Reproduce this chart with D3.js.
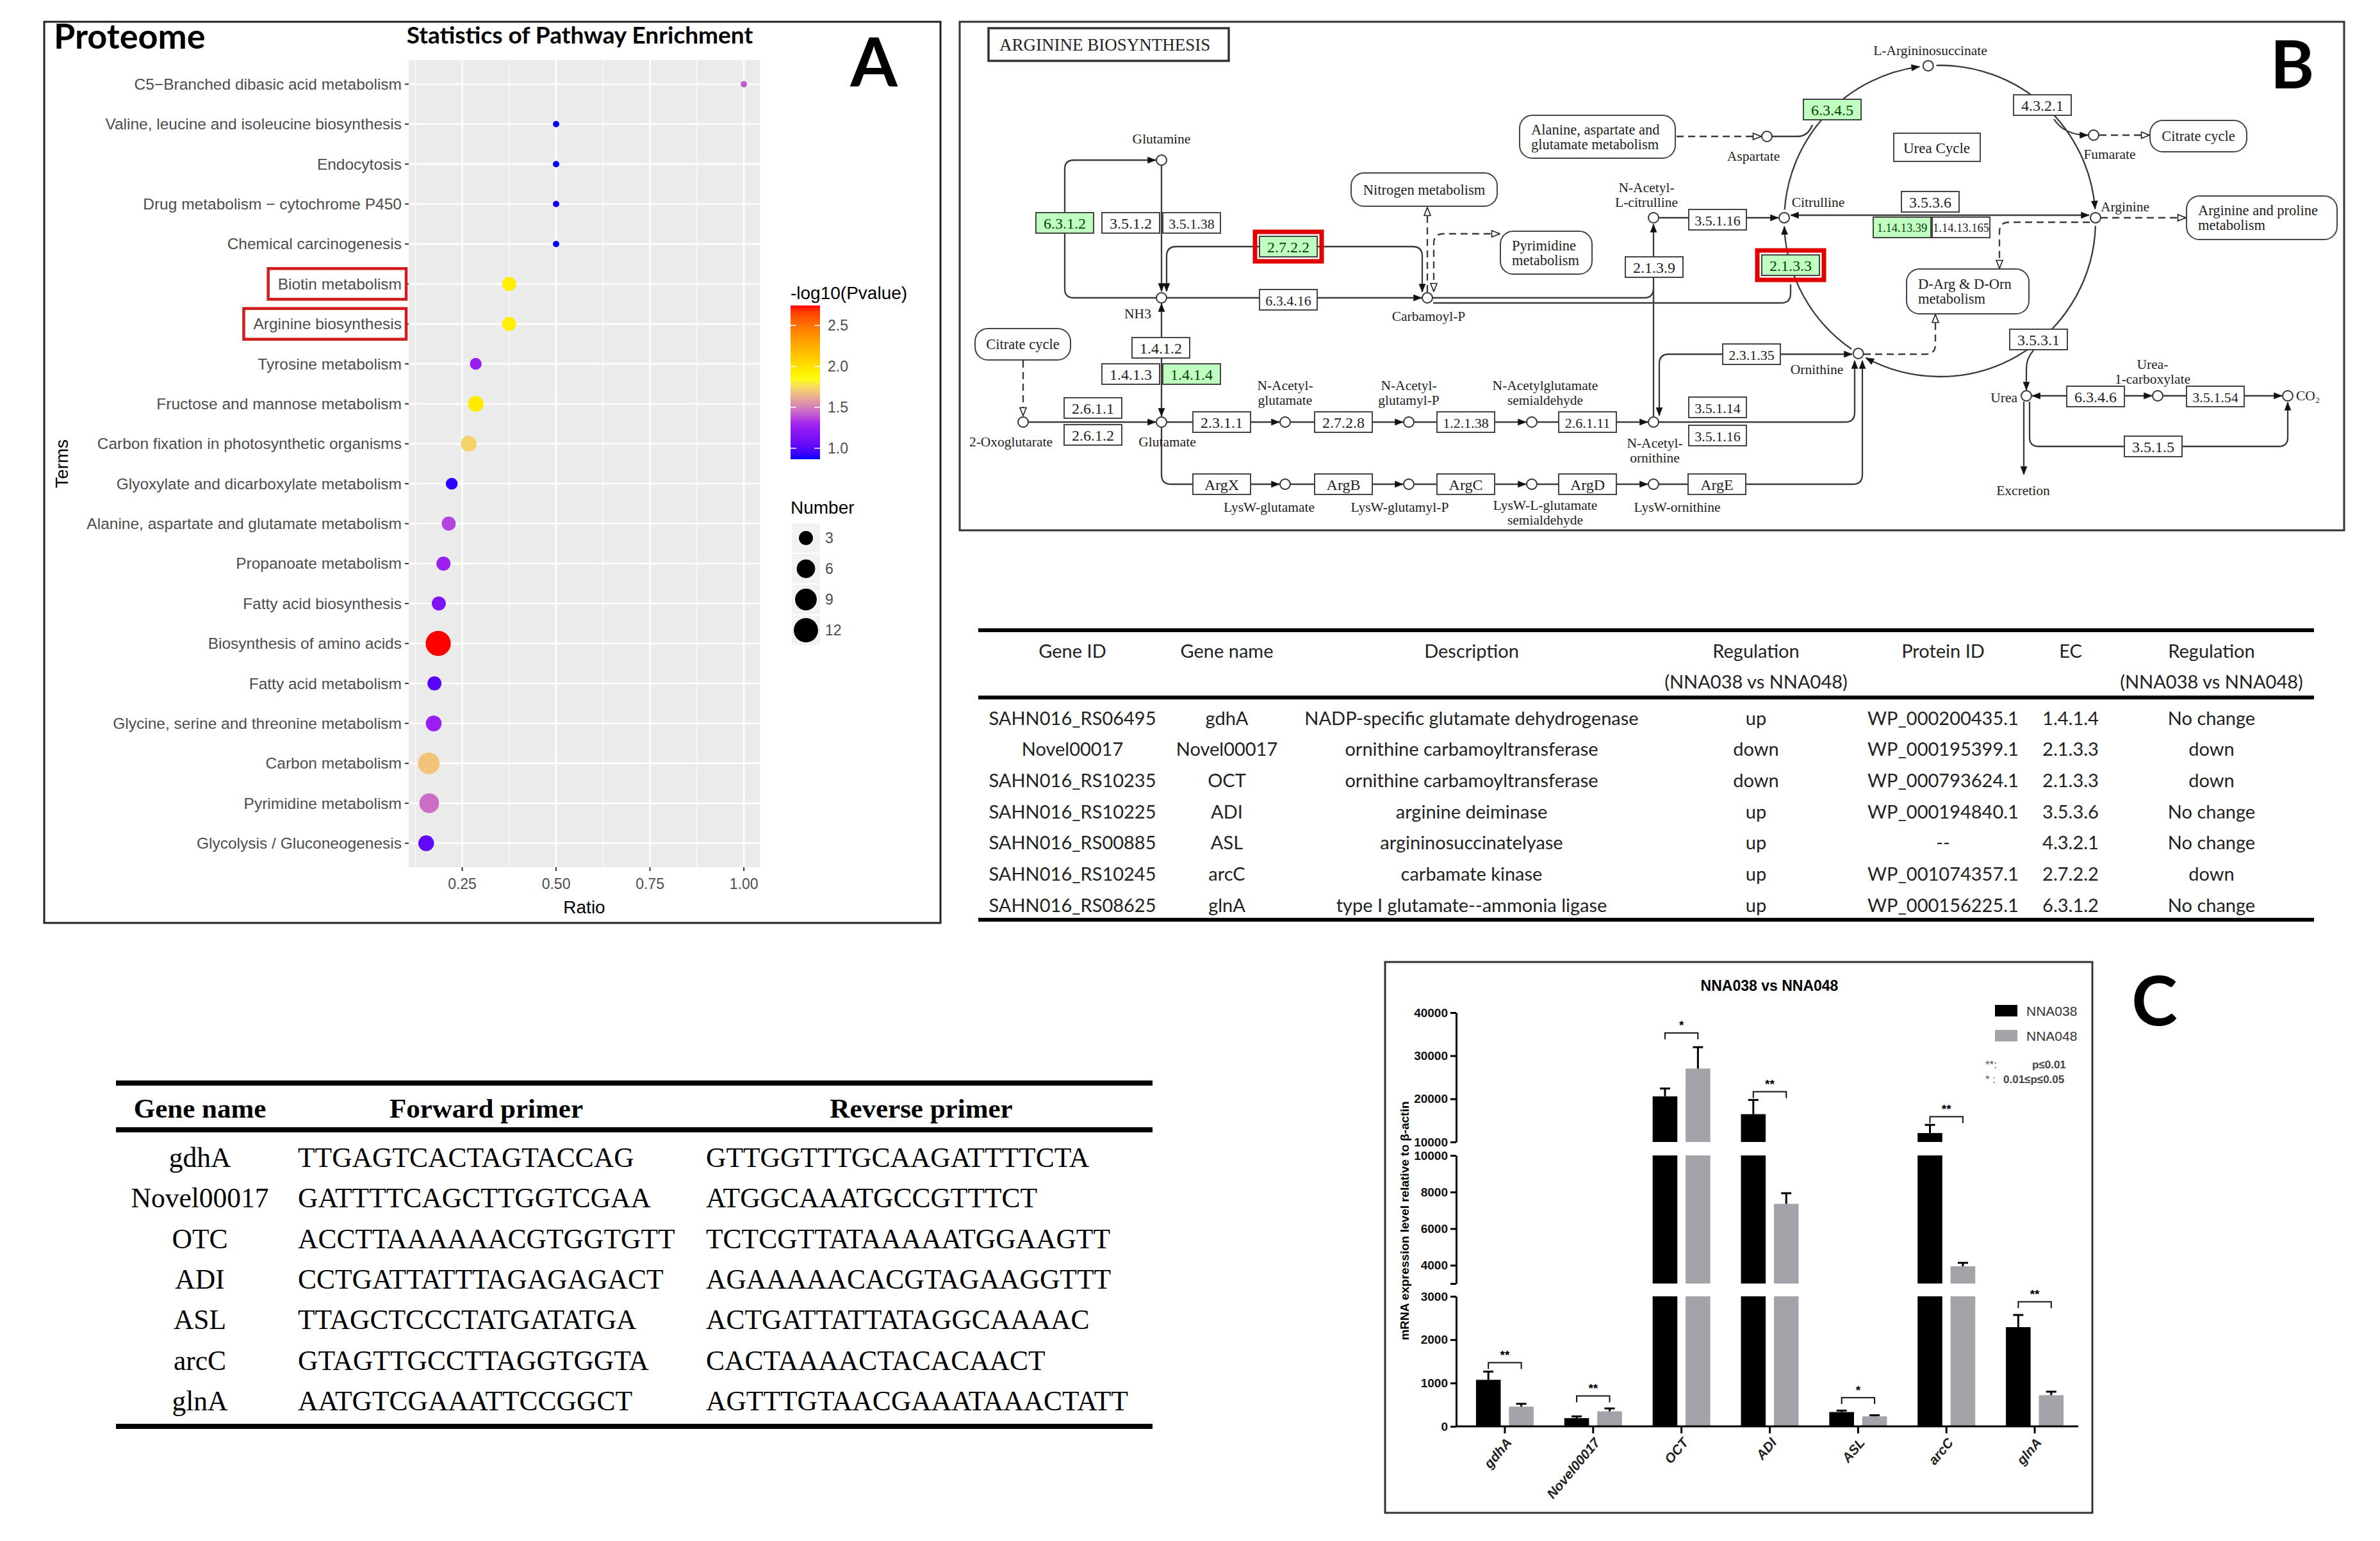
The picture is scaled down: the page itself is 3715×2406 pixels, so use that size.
<!DOCTYPE html>
<html><head><meta charset="utf-8">
<script src="https://cdn.jsdelivr.net/npm/d3@7"></script>
<style>body{margin:0;background:#fff} svg{display:block;background:#fff}</style>
</head><body>
<svg id="fig" width="3715" height="2406"></svg>
<script>
// ================= DATA =================
// Panel A – KEGG pathway enrichment
const terms = ["C5\u2212Branched dibasic acid metabolism","Valine, leucine and isoleucine biosynthesis","Endocytosis","Drug metabolism \u2212 cytochrome P450","Chemical carcinogenesis","Biotin metabolism","Arginine biosynthesis","Tyrosine metabolism","Fructose and mannose metabolism","Carbon fixation in photosynthetic organisms","Glyoxylate and dicarboxylate metabolism","Alanine, aspartate and glutamate metabolism","Propanoate metabolism","Fatty acid biosynthesis","Biosynthesis of amino acids","Fatty acid metabolism","Glycine, serine and threonine metabolism","Carbon metabolism","Pyrimidine metabolism","Glycolysis / Gluconeogenesis"];
const ratios = [1.0,0.5,0.5,0.5,0.5,0.375,0.375,0.286,0.286,0.267,0.222,0.214,0.2,0.1875,0.186,0.176,0.174,0.161,0.162,0.154];
const counts = [1,1,1,1,1,3,3,2,4,4,2,3,3,3,13,3,4,9,7,4];
const logP   = [1.41,0.87,0.87,0.87,0.87,1.93,1.93,1.27,1.95,1.73,0.9,1.36,1.28,1.15,2.744,1.0,1.27,1.69,1.46,1.03];
const highlightTerms = ["Biotin metabolism","Arginine biosynthesis"];
const ratioTicks = [0.25,0.5,0.75,1.0];
const ratioMinor = [0.125,0.375,0.625,0.875];
const pTicks = [1.0,1.5,2.0,2.5];
const sizeLegend = [3,6,9,12];
const colorStops = [0.866,1.3,1.85,2.744];
const colorRange = ["#0000ff","#a020f0","#ffff00","#ff0000"];

// Table 1
const t1Header = [["Gene ID"],["Gene name"],["Description"],["Regulation","(NNA038 vs NNA048)"],["Protein ID"],["EC"],["Regulation","(NNA038 vs NNA048)"]];
const t1GeneId = ["SAHN016_RS06495","Novel00017","SAHN016_RS10235","SAHN016_RS10225","SAHN016_RS00885","SAHN016_RS10245","SAHN016_RS08625"];
const t1GeneName = ["gdhA","Novel00017","OCT","ADI","ASL","arcC","glnA"];
const t1Desc = ["NADP-specific glutamate dehydrogenase","ornithine carbamoyltransferase","ornithine carbamoyltransferase","arginine deiminase","argininosuccinatelyase","carbamate kinase","type I glutamate--ammonia ligase"];
const t1RegRna = ["up","down","down","up","up","up","up"];
const t1Protein = ["WP_000200435.1","WP_000195399.1","WP_000793624.1","WP_000194840.1","--","WP_001074357.1","WP_000156225.1"];
const t1EC = ["1.4.1.4","2.1.3.3","2.1.3.3","3.5.3.6","4.3.2.1","2.7.2.2","6.3.1.2"];
const t1RegProt = ["No change","down","down","No change","No change","down","No change"];

// Table 2 – primers
const t2Genes = ["gdhA","Novel00017","OTC","ADI","ASL","arcC","glnA"];
const t2Fwd = ["TTGAGTCACTAGTACCAG","GATTTTCAGCTTGGTCGAA","ACCTTAAAAAACGTGGTGTT","CCTGATTATTTAGAGAGACT","TTAGCTCCCTATGATATGA","GTAGTTGCCTTAGGTGGTA","AATGTCGAAATTCCGGCT"];
const t2Rev = ["GTTGGTTTGCAAGATTTTCTA","ATGGCAAATGCCGTTTCT","TCTCGTTATAAAAATGGAAGTT","AGAAAAACACGTAGAAGGTTT","ACTGATTATTATAGGCAAAAC","CACTAAAACTACACAACT","AGTTTGTAACGAAATAAACTATT"];

// Panel C – qPCR
const genes = ["gdhA","Novel00017","OCT","ADI","ASL","arcC","glnA"];
const series = ["NNA038","NNA048"];
const nna038 = [1074,190,20580,16450,330,12070,2289];
const nna038Err = [190,40,1820,3300,34,1900,281];
const nna048 = [455,347,27025,7355,231,3940,719];
const nna048Err = [65,66,4955,580,25,190,81];
const sigLabel = ["**","**","*","**","*","**","**"];
const sigLevel = [1471,702,35290,21650,661,15870,2876];
const segDomains = [[0,3000],[3000,10000],[10000,40000]];
const segTicks = [[0,1000,2000,3000],[3000,4000,6000,8000,10000],[10000,20000,30000,40000]];

// Panel B – pathway map (KEGG map00220) layout
const enzymes = [
 ["6.3.1.2",1662,348,1,0],["3.5.1.2",1765,348,0,0],["3.5.1.38",1860,348,0,0],
 ["2.7.2.2",2011,385,1,1],["6.3.4.16",2011,468,0,0],
 ["1.4.1.2",1812,543,0,0],["1.4.1.3",1765,584,0,0],["1.4.1.4",1860,584,1,0],
 ["2.6.1.1",1706,637,0,0],["2.6.1.2",1706,679,0,0],
 ["2.3.1.1",1907,659,0,0],["2.7.2.8",2097,659,0,0],["1.2.1.38",2288,659,0,0],["2.6.1.11",2478,659,0,0],
 ["ArgX",1907,756,0,0],["ArgB",2097,756,0,0],["ArgC",2288,756,0,0],["ArgD",2478,756,0,0],["ArgE",2680,756,0,0],
 ["2.1.3.9",2582,417,0,0],["3.5.1.16",2681,343,0,0],["2.1.3.3",2795,414,1,1],
 ["6.3.4.5",2860,171,1,0],["4.3.2.1",3188,164,0,0],
 ["3.5.3.6",3013,315,0,0],["1.14.13.39",2969,355,1,0],["1.14.13.165",3061,355,0,0],
 ["2.3.1.35",2734,553,0,0],["3.5.1.14",2681,636,0,0],["3.5.1.16",2681,680,0,0],
 ["3.5.3.1",3182,530,0,0],["6.3.4.6",3271,619,0,0],["3.5.1.54",3458,619,0,0],["3.5.1.5",3361,697,0,0]
];
const cycle = {cx:3028, cy:345, r:243};
const cycleNodes = [["Citrulline",181.2],["L-Argininosuccinate",265.7],["Arginine",358.8],["Ornithine",121.6]];
const nodes = [[1813,250],[1813,465],[2228,465],[1597,659],[1813,659],[2006,659],[2199,659],[2391,659],[2581,659],
 [2006,756],[2199,756],[2391,756],[2581,756],[2581,340],[2758,213],[3268,211],[3163,618],[3368,618],[3571,618]];
const cLabels = [
 [["Glutamine"],1813,217,"middle"],[["NH3"],1776,490,"middle"],[["Carbamoyl-P"],2230,494,"middle"],
 [["2-Oxoglutarate"],1578,690,"middle"],[["Glutamate"],1822,690,"middle"],
 [["N-Acetyl-","glutamate"],2006,602,"middle"],[["N-Acetyl-","glutamyl-P"],2199,602,"middle"],
 [["N-Acetylglutamate","semialdehyde"],2412,602,"middle"],[["N-Acetyl-","ornithine"],2583,692,"middle"],
 [["LysW-glutamate"],1981,792,"middle"],[["LysW-glutamyl-P"],2185,792,"middle"],
 [["LysW-L-glutamate","semialdehyde"],2412,789,"middle"],[["LysW-ornithine"],2618,792,"middle"],
 [["N-Acetyl-","L-citrulline"],2570,293,"middle"],[["Citrulline"],2838,316,"middle"],
 [["Aspartate"],2737,244,"middle"],[["L-Argininosuccinate"],3013,79,"middle"],
 [["Fumarate"],3293,241,"middle"],[["Arginine"],3279,323,"start"],[["Ornithine"],2836,577,"middle"],
 [["Urea"],3149,621,"end"],[["Urea-","1-carboxylate"],3360,569,"middle"],[["CO\u2082"],3584,618,"start"],
 [["Excretion"],3158,766,"middle"]
];
const maps = [
 [["Alanine, aspartate and","glutamate metabolism"],2372,180,243,67,"start"],
 [["Nitrogen metabolism"],2109,270,228,52,"middle"],
 [["Pyrimidine","metabolism"],2342,361,143,67,"start"],
 [["Citrate cycle"],1522,513,149,49,"middle"],
 [["Citrate cycle"],3356,188,151,49,"middle"],
 [["Arginine and proline","metabolism"],3413,306,235,68,"start"],
 [["D-Arg & D-Orn","metabolism"],2976,420,191,70,"start"]
];
const edges = [
 ["M1805,465 H1676 Q1662,465 1662,451 V264 Q1662,250 1676,250 H1804",0,null,"arr"],
 ["M1813,259 V455",0,null,"arr"],
 ["M1821,455 V400 Q1821,385 1836,385 H2205 Q2220,385 2220,400 V456",0,"arr","arr"],
 ["M1822,465 H2219",0,null,"arr"],
 ["M2228,456 V324",1,null,"hol"],
 ["M2238,455 V380 Q2238,365 2253,365 H2341",1,"hol","hol"],
 ["M2237,465 H2566 Q2581,465 2581,450",0,null,null],
 ["M2237,473 H2780 Q2795,473 2795,458 V444",0,null,null],
 ["M2581,650 V350",0,null,"arr"],
 ["M2590,340 H2776",0,null,"arr"],
 ["M2795,336 H3261",0,"arr","arr"],
 ["M2766,213 H2806 Q2822,213 2829,195",0,null,null],
 ["M2617,213 H2749",1,null,"hol"],
 ["M3206,186 Q3222,211 3259,211",0,null,"arr"],
 ["M3277,211 H3355",1,null,"hol"],
 ["M3279,340 H3412",1,null,"hol"],
 ["M3262,347 H3136 Q3121,347 3121,362 V419",1,null,"hol"],
 ["M2909,553 H3006 Q3021,553 3021,538 V491",1,null,"hol"],
 ["M2590,649 V568 Q2590,553 2605,553 H2891",0,"arr","arr"],
 ["M2589,659 H2880 Q2895,659 2895,644 V563",0,null,"arr"],
 ["M2589,756 H2892 Q2907,756 2907,741 V563",0,null,"arr"],
 ["M3174,547 Q3163,560 3163,575 V609",0,null,"arr"],
 ["M3172,618 H3359",0,"arr","arr"],
 ["M3377,618 H3562",0,null,"arr"],
 ["M3168,627 V683 Q3168,697 3182,697 H3557 Q3571,697 3571,683 V628",0,null,"arr"],
 ["M3159,627 V741",0,null,"arr"],
 ["M1597,563 V649",1,null,"hol"],
 ["M1606,659 H1804",0,null,"arr"],
 ["M1813,650 V474",0,"arr","arr"],
 ["M1822,659 H1997",0,null,"arr"],["M2015,659 H2190",0,null,"arr"],["M2208,659 H2382",0,null,"arr"],["M2400,659 H2572",0,null,"arr"],
 ["M1813,668 V741 Q1813,756 1828,756 H1997",0,null,"arr"],["M2015,756 H2190",0,null,"arr"],["M2208,756 H2382",0,null,"arr"],["M2400,756 H2572",0,null,"arr"]
];

// ================= DRAW =================
const svg = d3.select("#fig");
const SANS = "'Liberation Sans', Arial, sans-serif";
const SERIF = "'Liberation Serif', 'Times New Roman', serif";
const CAL = "Lato, 'Open Sans', sans-serif";
function txt(g,x,y,s,o={}){
  return g.append("text").attr("x",x).attr("y",y).text(s)
   .attr("font-family",o.ff||SANS).attr("font-size",o.fs||20)
   .attr("font-weight",o.fw||"normal").attr("font-style",o.fst||"normal")
   .attr("fill",o.fill||"#000").attr("text-anchor",o.ta||"start")
   .attr("dominant-baseline",o.db||"central");
}
const defs = svg.append("defs");

// ---------- Panel A ----------
const gA = svg.append("g");
gA.append("rect").attr("x",69).attr("y",34).attr("width",1399).attr("height",1407).attr("fill","none").attr("stroke","#222").attr("stroke-width",3);
const PA = {x0:638,x1:1186,y0:94,y1:1354};
const xA = d3.scaleLinear().domain([0.1075,1.0425]).range([PA.x0,PA.x1]);
const yA = d3.scalePoint().domain(terms).range([PA.y0,PA.y1]).padding(0.6);
const colA = d3.scaleLinear().domain(colorStops).range(colorRange).interpolate(d3.interpolateLab).clamp(true);
const rBase = d3.scaleSqrt().domain([0,12]).range([5,19.6]);
const rA = n => rBase(n-1);
gA.append("rect").attr("x",PA.x0).attr("y",PA.y0).attr("width",PA.x1-PA.x0).attr("height",PA.y1-PA.y0).attr("fill","#ebebeb");
gA.selectAll(".mn").data(ratioMinor).enter().append("line").attr("x1",d=>xA(d)).attr("x2",d=>xA(d)).attr("y1",PA.y0).attr("y2",PA.y1).attr("stroke","#fafafa").attr("stroke-width",1.3);
gA.selectAll(".mj").data(ratioTicks).enter().append("line").attr("x1",d=>xA(d)).attr("x2",d=>xA(d)).attr("y1",PA.y0).attr("y2",PA.y1).attr("stroke","#fff").attr("stroke-width",2.6);
gA.selectAll(".hj").data(terms).enter().append("line").attr("x1",PA.x0).attr("x2",PA.x1).attr("y1",d=>yA(d)).attr("y2",d=>yA(d)).attr("stroke","#fff").attr("stroke-width",2.6);
terms.forEach((t,i)=>{
  gA.append("line").attr("x1",PA.x0-6).attr("x2",PA.x0).attr("y1",yA(t)).attr("y2",yA(t)).attr("stroke","#333").attr("stroke-width",2);
  const tx = txt(gA,PA.x0-11,yA(t),t,{fs:24.5,fill:"#4d4d4d",ta:"end"});
  if(highlightTerms.includes(t)){
    const w = tx.node().getComputedTextLength();
    gA.append("rect").attr("x",PA.x0-11-w-15).attr("y",yA(t)-24).attr("width",w+22).attr("height",48)
      .attr("fill","none").attr("stroke","#d01c1c").attr("stroke-width",4.5);
  }
});
ratioTicks.forEach(v=>{
  gA.append("line").attr("x1",xA(v)).attr("x2",xA(v)).attr("y1",PA.y1).attr("y2",PA.y1+6).attr("stroke","#333").attr("stroke-width",2);
  txt(gA,xA(v),1380,d3.format(".2f")(v),{fs:23,fill:"#4d4d4d",ta:"middle"});
});
txt(gA,(PA.x0+PA.x1)/2,1416,"Ratio",{fs:28,ta:"middle"});
txt(gA,0,0,"Terms",{fs:28,ta:"middle"}).attr("transform","translate(96,724) rotate(-90)");
const ptsOrder = d3.range(terms.length).sort((a,b)=>counts[b]-counts[a]);
gA.selectAll(".pt").data(ptsOrder).enter().append("circle")
  .attr("cx",i=>xA(ratios[i])).attr("cy",i=>yA(terms[i])).attr("r",i=>rA(counts[i])).attr("fill",i=>colA(logP[i]));
txt(gA,84,76,"Proteome",{ff:CAL,fs:54,fw:"bold",db:"alphabetic"});
txt(gA,905,68,"Statistics of Pathway Enrichment",{ff:CAL,fs:37,fw:"bold",ta:"middle",db:"alphabetic"});
txt(gA,1364,135,"A",{ff:CAL,fs:106,fw:"bold",ta:"middle",db:"alphabetic"});
txt(gA,1234,457,"-log10(Pvalue)",{fs:28});
const cb = {x:1234,w:46,y0:717,y1:477};
const yCB = d3.scaleLinear().domain([colorStops[0],colorStops[colorStops.length-1]]).range([cb.y0,cb.y1]);
const grad = defs.append("linearGradient").attr("id","cbg").attr("x1",0).attr("x2",0).attr("y1",1).attr("y2",0);
d3.range(0,1.0001,0.04).forEach(t=>{
  const v = yCB.domain()[0]+t*(yCB.domain()[1]-yCB.domain()[0]);
  grad.append("stop").attr("offset",t).attr("stop-color",colA(v));
});
gA.append("rect").attr("x",cb.x).attr("y",cb.y1).attr("width",cb.w).attr("height",cb.y0-cb.y1).attr("fill","url(#cbg)");
pTicks.forEach(v=>{
  gA.append("line").attr("x1",cb.x).attr("x2",cb.x+9).attr("y1",yCB(v)).attr("y2",yCB(v)).attr("stroke","#fff").attr("stroke-width",1.5);
  gA.append("line").attr("x1",cb.x+cb.w-9).attr("x2",cb.x+cb.w).attr("y1",yCB(v)).attr("y2",yCB(v)).attr("stroke","#fff").attr("stroke-width",1.5);
  txt(gA,1292,yCB(v),d3.format(".1f")(v),{fs:23,fill:"#4d4d4d"});
});
txt(gA,1234,792,"Number",{fs:28});
const keyY = d3.scalePoint().domain(sizeLegend).range([840,984]);
sizeLegend.forEach(n=>{
  gA.append("rect").attr("x",1236).attr("y",keyY(n)-23).attr("width",44).attr("height",46).attr("fill","#f2f2f2");
  gA.append("circle").attr("cx",1258).attr("cy",keyY(n)).attr("r",rA(n)).attr("fill","#000");
  txt(gA,1288,keyY(n),String(n),{fs:23,fill:"#4d4d4d"});
});

// ---------- Panel B ----------
const gB = svg.append("g");
gB.append("rect").attr("x",1498).attr("y",34).attr("width",2161).attr("height",794).attr("fill","#fff").attr("stroke","#333").attr("stroke-width",3);
function mk(id,hollow){
  const m = defs.append("marker").attr("id",id).attr("viewBox","0 0 12 10").attr("refX",11).attr("refY",5)
    .attr("markerWidth",15).attr("markerHeight",13).attr("markerUnits","userSpaceOnUse").attr("orient","auto-start-reverse");
  m.append("path").attr("d","M1,1 L11,5 L1,9 z").attr("fill",hollow?"#fff":"#111").attr("stroke","#222").attr("stroke-width",hollow?1.3:0.5);
}
mk("arr",false); mk("hol",true);
const LC = "#3a3a3a";
const cyc = {};
cycleNodes.forEach(([n,a])=>{ cyc[n] = {a, x:cycle.cx+cycle.r*Math.cos(a*Math.PI/180), y:cycle.cy+cycle.r*Math.sin(a*Math.PI/180)}; });
const arcs = [["Citrulline","L-Argininosuccinate"],["L-Argininosuccinate","Arginine"],["Arginine","Ornithine"],["Ornithine","Citrulline"]];
const P = a => [cycle.cx+cycle.r*Math.cos(a*Math.PI/180), cycle.cy+cycle.r*Math.sin(a*Math.PI/180)];
arcs.forEach(([s,e])=>{
  let a0 = cyc[s].a+3, a1 = cyc[e].a-3.2;
  if(a1<a0) a1+=360;
  const p0=P(a0), p1=P(a1);
  gB.append("path").attr("d",`M${p0[0]},${p0[1]} A${cycle.r},${cycle.r} 0 ${a1-a0>180?1:0} 1 ${p1[0]},${p1[1]}`)
    .attr("fill","none").attr("stroke",LC).attr("stroke-width",2.3).attr("marker-end","url(#arr)");
});
edges.forEach(([d,dash,ms,me])=>{
  const p = gB.append("path").attr("d",d).attr("fill","none").attr("stroke",LC).attr("stroke-width",2.3);
  if(dash) p.attr("stroke-dasharray","11,7");
  if(ms) p.attr("marker-start",`url(#${ms})`);
  if(me) p.attr("marker-end",`url(#${me})`);
});
maps.forEach(([lines,x,y,w,h,al])=>{
  gB.append("rect").attr("x",x).attr("y",y).attr("width",w).attr("height",h).attr("rx",20).attr("ry",20).attr("fill","#fff").attr("stroke","#444").attr("stroke-width",2);
  lines.forEach((l,k)=>{
    const ty = y+h/2+(k-(lines.length-1)/2)*23;
    txt(gB,al==="start"?x+18:x+w/2,ty,l,{ff:SERIF,fs:22.5,ta:al,fill:"#222"});
  });
});
gB.append("rect").attr("x",2956).attr("y",208).attr("width",135).attr("height",44).attr("fill","#fff").attr("stroke","#444").attr("stroke-width",2);
txt(gB,3023,231,"Urea Cycle",{ff:SERIF,fs:23,ta:"middle",fill:"#222"});
gB.append("rect").attr("x",1543).attr("y",44).attr("width",375).attr("height",51).attr("fill","#fff").attr("stroke","#333").attr("stroke-width",3.5);
txt(gB,1560,70,"ARGININE  BIOSYNTHESIS",{ff:SERIF,fs:27,fill:"#222"});
enzymes.forEach(([lab,x,y,green,red])=>{
  const w=90,h=32;
  if(red) gB.append("rect").attr("x",x-w/2-7).attr("y",y-h/2-7).attr("width",w+14).attr("height",h+14).attr("fill","none").attr("stroke","#e00000").attr("stroke-width",7);
  gB.append("rect").attr("x",x-w/2).attr("y",y-h/2).attr("width",w).attr("height",h).attr("fill",green?"#bfffbf":"#fff").attr("stroke","#444").attr("stroke-width",2);
  txt(gB,x,y+1,lab,{ff:SERIF,fs:lab.length>=10?18.5:(lab.length>=8?22:24),ta:"middle",fill:green?"#0a3d0a":"#222"});
});
nodes.concat(Object.values(cyc).map(c=>[c.x,c.y])).forEach(([x,y])=>{
  gB.append("circle").attr("cx",x).attr("cy",y).attr("r",8).attr("fill","#fff").attr("stroke","#333").attr("stroke-width",2);
});
cLabels.forEach(([lines,x,y,an])=>{
  lines.forEach((l,k)=>txt(gB,x,y+k*23,l,{ff:SERIF,fs:21.5,ta:an,fill:"#222"}));
});
txt(gB,3578,138,"B",{ff:CAL,fs:104,fw:"bold",ta:"middle",db:"alphabetic"});

// ---------- Table 1 ----------
const gT = svg.append("g");
const t1Cols = [1674,1915,2297,2741,3033,3232,3452];
const t1RowY = d3.scalePoint().domain(d3.range(7)).range([1120,1412]);
[[984,6],[1089,6],[1436,6]].forEach(([y,w])=>gT.append("line").attr("x1",1527).attr("x2",3612).attr("y1",y).attr("y2",y).attr("stroke","#000").attr("stroke-width",w));
t1Header.forEach((h,c)=>h.forEach((l,k)=>txt(gT,t1Cols[c],1015+k*48,l,{ff:CAL,fs:29,ta:"middle",fill:"#222"})));
const t1Data = [t1GeneId,t1GeneName,t1Desc,t1RegRna,t1Protein,t1EC,t1RegProt];
t1Data.forEach((col,c)=>col.forEach((v,r)=>txt(gT,t1Cols[c],t1RowY(r),v,{ff:CAL,fs:29,ta:"middle",fill:"#222"})));

// ---------- Table 2 ----------
const gP = svg.append("g");
[[1691,8],[1764,8],[2227,8]].forEach(([y,w])=>gP.append("line").attr("x1",181).attr("x2",1799).attr("y1",y).attr("y2",y).attr("stroke","#000").attr("stroke-width",w));
txt(gP,312,1730,"Gene name",{ff:SERIF,fs:43,fw:"bold",ta:"middle"});
txt(gP,759,1730,"Forward primer",{ff:SERIF,fs:43,fw:"bold",ta:"middle"});
txt(gP,1438,1730,"Reverse primer",{ff:SERIF,fs:43,fw:"bold",ta:"middle"});
const t2RowY = d3.scalePoint().domain(d3.range(7)).range([1807,2187]);
t2Genes.forEach((g,r)=>{
  txt(gP,312,t2RowY(r),g,{ff:SERIF,fs:43.5,ta:"middle"});
  txt(gP,465,t2RowY(r),t2Fwd[r],{ff:SERIF,fs:43.5});
  txt(gP,1102,t2RowY(r),t2Rev[r],{ff:SERIF,fs:43.5});
});

// ---------- Panel C ----------
const gC = svg.append("g");
gC.append("rect").attr("x",2162).attr("y",1502).attr("width",1104).attr("height",860).attr("fill","#fff").attr("stroke","#333").attr("stroke-width",3);
txt(gC,3363,1601,"C",{ff:CAL,fs:108,fw:"bold",ta:"middle",db:"alphabetic"});
const segRanges = [[2227,2024],[2004,1804],[1783,1581]];
const segS = segDomains.map((d,i)=>d3.scaleLinear().domain(d).range(segRanges[i]));
const xC = d3.scaleBand().domain(genes).range([2280,3245]);
const xSub = d3.scaleBand().domain(series).range([-45,45]).paddingInner(0.25);
const vals = [nna038,nna048], errs=[nna038Err,nna048Err], fills=["#000","#a3a3a9"];
const ctr = g => xC(g)+xC.bandwidth()/2;
const segOf = v => segS.findIndex(s=>v>s.domain()[0] && v<=s.domain()[1]);
genes.forEach((g,i)=>{
  series.forEach((s,j)=>{
    const v = vals[j][i], e = errs[j][i];
    const bx = ctr(g)+xSub(s), bw = xSub.bandwidth();
    segS.forEach(sc=>{
      const [lo,hi] = sc.domain();
      if(v>lo){
        const top = Math.min(v,hi);
        gC.append("rect").attr("x",bx).attr("y",sc(top)).attr("width",bw).attr("height",sc(lo)-sc(top)).attr("fill",fills[j]);
      }
    });
    const sc = segS[segOf(v)];
    const te = Math.min(v+e, sc.domain()[1]);
    const cx = bx+bw/2;
    gC.append("line").attr("x1",cx).attr("x2",cx).attr("y1",sc(v)).attr("y2",sc(te)).attr("stroke","#000").attr("stroke-width",3);
    gC.append("line").attr("x1",cx-8).attr("x2",cx+8).attr("y1",sc(te)).attr("y2",sc(te)).attr("stroke","#000").attr("stroke-width",3);
  });
  const sc = segS[segOf(sigLevel[i])];
  const yb = sc(sigLevel[i]);
  const xa = ctr(g)+xSub("NNA038")+xSub.bandwidth()/2, xb = ctr(g)+xSub("NNA048")+xSub.bandwidth()/2;
  gC.append("path").attr("d",`M${xa},${yb+10} V${yb} H${xb} V${yb+10}`).attr("fill","none").attr("stroke","#111").attr("stroke-width",2);
  txt(gC,(xa+xb)/2,yb-12,sigLabel[i],{fs:19,fw:"bold",ta:"middle"});
});
segS.forEach((sc,k)=>{
  const ax = gC.append("g").attr("transform","translate(2273,0)")
    .call(d3.axisLeft(sc).tickValues(segTicks[k]).tickSize(9).tickSizeOuter(0).tickPadding(4)
      .tickFormat(d=>(k===1&&d===3000)?"":String(d)));
  ax.select(".domain").attr("stroke","#000").attr("stroke-width",3);
  ax.selectAll(".tick line").attr("stroke","#000").attr("stroke-width",3);
  ax.selectAll(".tick text").attr("font-family",SANS).attr("font-size",19).attr("font-weight","bold").attr("fill","#111");
});
gC.append("line").attr("x1",2272).attr("x2",3244).attr("y1",2227).attr("y2",2227).attr("stroke","#000").attr("stroke-width",3);
genes.forEach(g=>{
  gC.append("line").attr("x1",ctr(g)).attr("x2",ctr(g)).attr("y1",2227).attr("y2",2238).attr("stroke","#000").attr("stroke-width",3);
  txt(gC,0,0,g,{fs:21,fw:"bold",fst:"italic",ta:"end",fill:"#222"}).attr("transform",`translate(${ctr(g)+6},${2248}) rotate(-50)`);
});
txt(gC,2762,1539,"NNA038 vs NNA048",{fs:23,fw:"bold",ta:"middle"});
txt(gC,0,0,"mRNA expression level relative to \u03b2-actin",{fs:19,fw:"bold",ta:"middle"}).attr("transform","translate(2192,1906) rotate(-90)");
series.forEach((s,j)=>{
  const y = [1578,1617][j];
  gC.append("rect").attr("x",3114).attr("y",y-9).attr("width",35).attr("height",18).attr("fill",fills[j]);
  txt(gC,3163,y,s,{fs:21,fill:"#333"});
});
txt(gC,3099,1662,"**:",{fs:17,fill:"#555"});
txt(gC,3172,1662,"p\u22640.01",{fs:17,fw:"bold",fill:"#444"});
txt(gC,3099,1685,"* :",{fs:17,fill:"#555"});
txt(gC,3127,1685,"0.01\u2264p\u22640.05",{fs:17,fw:"bold",fill:"#444"});
</script>
</body></html>
